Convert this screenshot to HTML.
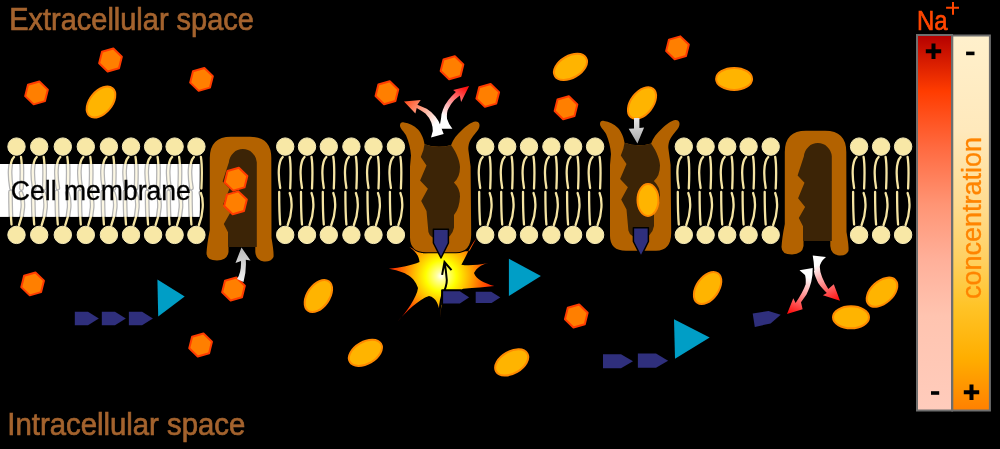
<!DOCTYPE html>
<html><head><meta charset="utf-8"><title>Sodium-potassium pump</title>
<style>html,body{margin:0;padding:0;background:#000;width:1000px;height:449px;overflow:hidden} svg{display:block;will-change:transform} text{font-family:"Liberation Sans",sans-serif}</style>
</head><body>
<svg width="1000" height="449" viewBox="0 0 1000 449"><defs>
<linearGradient id="gRed" x1="0" y1="0" x2="0" y2="1">
 <stop offset="0" stop-color="#b40000"/><stop offset="0.15" stop-color="#ff3c00"/><stop offset="0.3" stop-color="#ff6a40"/><stop offset="0.45" stop-color="#ff9474"/><stop offset="0.6" stop-color="#ffb09a"/><stop offset="0.75" stop-color="#ffc4b0"/><stop offset="1" stop-color="#ffccbc"/>
</linearGradient>
<linearGradient id="gOr" x1="0" y1="0" x2="0" y2="1">
 <stop offset="0" stop-color="#fff0cc"/><stop offset="0.25" stop-color="#ffe9bc"/><stop offset="0.45" stop-color="#ffdc90"/><stop offset="0.6" stop-color="#ffd060"/><stop offset="0.72" stop-color="#ffc428"/><stop offset="0.86" stop-color="#ffae00"/><stop offset="1" stop-color="#ff8000"/>
</linearGradient>
<linearGradient id="gGreyUp" x1="0" y1="0" x2="0" y2="1">
 <stop offset="0" stop-color="#b8b8b8"/><stop offset="1" stop-color="#f4f4f4"/>
</linearGradient>
<linearGradient id="gGreyDn" x1="0" y1="0" x2="0" y2="1">
 <stop offset="0" stop-color="#e8e8e8"/><stop offset="1" stop-color="#a8a8a8"/>
</linearGradient>
<linearGradient id="gArrL" gradientUnits="userSpaceOnUse" x1="440" y1="133" x2="405" y2="102">
 <stop offset="0.2" stop-color="#ffffff"/><stop offset="1" stop-color="#ff5020"/>
</linearGradient>
<linearGradient id="gArrR" gradientUnits="userSpaceOnUse" x1="444" y1="126" x2="466" y2="88">
 <stop offset="0.2" stop-color="#ffffff"/><stop offset="1" stop-color="#ff1010"/>
</linearGradient>
<linearGradient id="gArrDL" gradientUnits="userSpaceOnUse" x1="806" y1="269" x2="788" y2="313">
 <stop offset="0.15" stop-color="#ffffff"/><stop offset="1" stop-color="#ff0a0a"/>
</linearGradient>
<linearGradient id="gArrDR" gradientUnits="userSpaceOnUse" x1="819" y1="256" x2="840" y2="300">
 <stop offset="0.15" stop-color="#ffffff"/><stop offset="1" stop-color="#ff0a0a"/>
</linearGradient>
<radialGradient id="gBoom" gradientUnits="userSpaceOnUse" cx="441" cy="276" r="55">
 <stop offset="0" stop-color="#ffffff"/><stop offset="0.08" stop-color="#ffffa0"/><stop offset="0.28" stop-color="#ffff00"/><stop offset="0.52" stop-color="#ffb000"/><stop offset="0.76" stop-color="#ff5a00"/><stop offset="1" stop-color="#ff1400"/>
</radialGradient>
</defs><rect width="1000" height="449" fill="#000"/><rect x="0" y="164" width="199.8" height="52.8" fill="#fff"/><path d="M14.0,157 C9.0,162 9.5,177 11.5,188 M21.0,157 C22.5,166 22.0,178 21.5,188.5 M10.5,192 C10.5,204 10.5,214 11.5,224.5 M21.0,193 C24.0,200 23.5,214 19.0,225 M36.7,157 C31.7,162 32.2,177 34.2,188 M43.7,157 C45.2,166 44.7,178 44.2,188.5 M33.2,192 C33.2,204 33.2,214 34.2,224.5 M43.7,193 C46.7,200 46.2,214 41.7,225 M60.3,157 C55.3,162 55.8,177 57.8,188 M67.3,157 C68.8,166 68.3,178 67.8,188.5 M56.8,192 C56.8,204 56.8,214 57.8,224.5 M67.3,193 C70.3,200 69.8,214 65.3,225 M83.3,157 C78.3,162 78.8,177 80.8,188 M90.3,157 C91.8,166 91.3,178 90.8,188.5 M79.8,192 C79.8,204 79.8,214 80.8,224.5 M90.3,193 C93.3,200 92.8,214 88.3,225 M106.4,157 C101.4,162 101.9,177 103.9,188 M113.4,157 C114.9,166 114.4,178 113.9,188.5 M102.9,192 C102.9,204 102.9,214 103.9,224.5 M113.4,193 C116.4,200 115.9,214 111.4,225 M128.5,157 C123.5,162 124.0,177 126.0,188 M135.5,157 C137.0,166 136.5,178 136.0,188.5 M125.0,192 C125.0,204 125.0,214 126.0,224.5 M135.5,193 C138.5,200 138.0,214 133.5,225 M150.6,157 C145.6,162 146.1,177 148.1,188 M157.6,157 C159.1,166 158.6,178 158.1,188.5 M147.1,192 C147.1,204 147.1,214 148.1,224.5 M157.6,193 C160.6,200 160.1,214 155.6,225 M172.1,157 C167.1,162 167.6,177 169.6,188 M179.1,157 C180.6,166 180.1,178 179.6,188.5 M168.6,192 C168.6,204 168.6,214 169.6,224.5 M179.1,193 C182.1,200 181.6,214 177.1,225 M193.9,157 C188.9,162 189.4,177 191.4,188 M200.9,157 C202.4,166 201.9,178 201.4,188.5 M190.4,192 C190.4,204 190.4,214 191.4,224.5 M200.9,193 C203.9,200 203.4,214 198.9,225 M282.7,157 C277.7,162 278.2,177 280.2,188 M289.7,157 C291.2,166 290.7,178 290.2,188.5 M279.2,192 C279.2,204 279.2,214 280.2,224.5 M289.7,193 C292.7,200 292.2,214 287.7,225 M304.5,157 C299.5,162 300.0,177 302.0,188 M311.5,157 C313.0,166 312.5,178 312.0,188.5 M301.0,192 C301.0,204 301.0,214 302.0,224.5 M311.5,193 C314.5,200 314.0,214 309.5,225 M326.3,157 C321.3,162 321.8,177 323.8,188 M333.3,157 C334.8,166 334.3,178 333.8,188.5 M322.8,192 C322.8,204 322.8,214 323.8,224.5 M333.3,193 C336.3,200 335.8,214 331.3,225 M348.9,157 C343.9,162 344.4,177 346.4,188 M355.9,157 C357.4,166 356.9,178 356.4,188.5 M345.4,192 C345.4,204 345.4,214 346.4,224.5 M355.9,193 C358.9,200 358.4,214 353.9,225 M371.0,157 C366.0,162 366.5,177 368.5,188 M378.0,157 C379.5,166 379.0,178 378.5,188.5 M367.5,192 C367.5,204 367.5,214 368.5,224.5 M378.0,193 C381.0,200 380.5,214 376.0,225 M393.4,157 C388.4,162 388.9,177 390.9,188 M400.4,157 C401.9,166 401.4,178 400.9,188.5 M389.9,192 C389.9,204 389.9,214 390.9,224.5 M400.4,193 C403.4,200 402.9,214 398.4,225 M482.7,157 C477.7,162 478.2,177 480.2,188 M489.7,157 C491.2,166 490.7,178 490.2,188.5 M479.2,192 C479.2,204 479.2,214 480.2,224.5 M489.7,193 C492.7,200 492.2,214 487.7,225 M504.7,157 C499.7,162 500.2,177 502.2,188 M511.7,157 C513.2,166 512.7,178 512.2,188.5 M501.2,192 C501.2,204 501.2,214 502.2,224.5 M511.7,193 C514.7,200 514.2,214 509.7,225 M526.5,157 C521.5,162 522.0,177 524.0,188 M533.5,157 C535.0,166 534.5,178 534.0,188.5 M523.0,192 C523.0,204 523.0,214 524.0,224.5 M533.5,193 C536.5,200 536.0,214 531.5,225 M548.9,157 C543.9,162 544.4,177 546.4,188 M555.9,157 C557.4,166 556.9,178 556.4,188.5 M545.4,192 C545.4,204 545.4,214 546.4,224.5 M555.9,193 C558.9,200 558.4,214 553.9,225 M570.6,157 C565.6,162 566.1,177 568.1,188 M577.6,157 C579.1,166 578.6,178 578.1,188.5 M567.1,192 C567.1,204 567.1,214 568.1,224.5 M577.6,193 C580.6,200 580.1,214 575.6,225 M592.6,157 C587.6,162 588.1,177 590.1,188 M599.6,157 C601.1,166 600.6,178 600.1,188.5 M589.1,192 C589.1,204 589.1,214 590.1,224.5 M599.6,193 C602.6,200 602.1,214 597.6,225 M681.3,157 C676.3,162 676.8,177 678.8,188 M688.3,157 C689.8,166 689.3,178 688.8,188.5 M677.8,192 C677.8,204 677.8,214 678.8,224.5 M688.3,193 C691.3,200 690.8,214 686.3,225 M703.1,157 C698.1,162 698.6,177 700.6,188 M710.1,157 C711.6,166 711.1,178 710.6,188.5 M699.6,192 C699.6,204 699.6,214 700.6,224.5 M710.1,193 C713.1,200 712.6,214 708.1,225 M724.7,157 C719.7,162 720.2,177 722.2,188 M731.7,157 C733.2,166 732.7,178 732.2,188.5 M721.2,192 C721.2,204 721.2,214 722.2,224.5 M731.7,193 C734.7,200 734.2,214 729.7,225 M746.1,157 C741.1,162 741.6,177 743.6,188 M753.1,157 C754.6,166 754.1,178 753.6,188.5 M742.6,192 C742.6,204 742.6,214 743.6,224.5 M753.1,193 C756.1,200 755.6,214 751.1,225 M768.2,157 C763.2,162 763.7,177 765.7,188 M775.2,157 C776.7,166 776.2,178 775.7,188.5 M764.7,192 C764.7,204 764.7,214 765.7,224.5 M775.2,193 C778.2,200 777.7,214 773.2,225 M856.6,157 C851.6,162 852.1,177 854.1,188 M863.6,157 C865.1,166 864.6,178 864.1,188.5 M853.1,192 C853.1,204 853.1,214 854.1,224.5 M863.6,193 C866.6,200 866.1,214 861.6,225 M878.6,157 C873.6,162 874.1,177 876.1,188 M885.6,157 C887.1,166 886.6,178 886.1,188.5 M875.1,192 C875.1,204 875.1,214 876.1,224.5 M885.6,193 C888.6,200 888.1,214 883.6,225 M900.6,157 C895.6,162 896.1,177 898.1,188 M907.6,157 C909.1,166 908.6,178 908.1,188.5 M897.1,192 C897.1,204 897.1,214 898.1,224.5 M907.6,193 C910.6,200 910.1,214 905.6,225" fill="none" stroke="#000" stroke-width="4.8" stroke-linecap="round"/><path d="M14.0,157 C9.0,162 9.5,177 11.5,188 M21.0,157 C22.5,166 22.0,178 21.5,188.5 M10.5,192 C10.5,204 10.5,214 11.5,224.5 M21.0,193 C24.0,200 23.5,214 19.0,225 M36.7,157 C31.7,162 32.2,177 34.2,188 M43.7,157 C45.2,166 44.7,178 44.2,188.5 M33.2,192 C33.2,204 33.2,214 34.2,224.5 M43.7,193 C46.7,200 46.2,214 41.7,225 M60.3,157 C55.3,162 55.8,177 57.8,188 M67.3,157 C68.8,166 68.3,178 67.8,188.5 M56.8,192 C56.8,204 56.8,214 57.8,224.5 M67.3,193 C70.3,200 69.8,214 65.3,225 M83.3,157 C78.3,162 78.8,177 80.8,188 M90.3,157 C91.8,166 91.3,178 90.8,188.5 M79.8,192 C79.8,204 79.8,214 80.8,224.5 M90.3,193 C93.3,200 92.8,214 88.3,225 M106.4,157 C101.4,162 101.9,177 103.9,188 M113.4,157 C114.9,166 114.4,178 113.9,188.5 M102.9,192 C102.9,204 102.9,214 103.9,224.5 M113.4,193 C116.4,200 115.9,214 111.4,225 M128.5,157 C123.5,162 124.0,177 126.0,188 M135.5,157 C137.0,166 136.5,178 136.0,188.5 M125.0,192 C125.0,204 125.0,214 126.0,224.5 M135.5,193 C138.5,200 138.0,214 133.5,225 M150.6,157 C145.6,162 146.1,177 148.1,188 M157.6,157 C159.1,166 158.6,178 158.1,188.5 M147.1,192 C147.1,204 147.1,214 148.1,224.5 M157.6,193 C160.6,200 160.1,214 155.6,225 M172.1,157 C167.1,162 167.6,177 169.6,188 M179.1,157 C180.6,166 180.1,178 179.6,188.5 M168.6,192 C168.6,204 168.6,214 169.6,224.5 M179.1,193 C182.1,200 181.6,214 177.1,225 M193.9,157 C188.9,162 189.4,177 191.4,188 M200.9,157 C202.4,166 201.9,178 201.4,188.5 M190.4,192 C190.4,204 190.4,214 191.4,224.5 M200.9,193 C203.9,200 203.4,214 198.9,225 M282.7,157 C277.7,162 278.2,177 280.2,188 M289.7,157 C291.2,166 290.7,178 290.2,188.5 M279.2,192 C279.2,204 279.2,214 280.2,224.5 M289.7,193 C292.7,200 292.2,214 287.7,225 M304.5,157 C299.5,162 300.0,177 302.0,188 M311.5,157 C313.0,166 312.5,178 312.0,188.5 M301.0,192 C301.0,204 301.0,214 302.0,224.5 M311.5,193 C314.5,200 314.0,214 309.5,225 M326.3,157 C321.3,162 321.8,177 323.8,188 M333.3,157 C334.8,166 334.3,178 333.8,188.5 M322.8,192 C322.8,204 322.8,214 323.8,224.5 M333.3,193 C336.3,200 335.8,214 331.3,225 M348.9,157 C343.9,162 344.4,177 346.4,188 M355.9,157 C357.4,166 356.9,178 356.4,188.5 M345.4,192 C345.4,204 345.4,214 346.4,224.5 M355.9,193 C358.9,200 358.4,214 353.9,225 M371.0,157 C366.0,162 366.5,177 368.5,188 M378.0,157 C379.5,166 379.0,178 378.5,188.5 M367.5,192 C367.5,204 367.5,214 368.5,224.5 M378.0,193 C381.0,200 380.5,214 376.0,225 M393.4,157 C388.4,162 388.9,177 390.9,188 M400.4,157 C401.9,166 401.4,178 400.9,188.5 M389.9,192 C389.9,204 389.9,214 390.9,224.5 M400.4,193 C403.4,200 402.9,214 398.4,225 M482.7,157 C477.7,162 478.2,177 480.2,188 M489.7,157 C491.2,166 490.7,178 490.2,188.5 M479.2,192 C479.2,204 479.2,214 480.2,224.5 M489.7,193 C492.7,200 492.2,214 487.7,225 M504.7,157 C499.7,162 500.2,177 502.2,188 M511.7,157 C513.2,166 512.7,178 512.2,188.5 M501.2,192 C501.2,204 501.2,214 502.2,224.5 M511.7,193 C514.7,200 514.2,214 509.7,225 M526.5,157 C521.5,162 522.0,177 524.0,188 M533.5,157 C535.0,166 534.5,178 534.0,188.5 M523.0,192 C523.0,204 523.0,214 524.0,224.5 M533.5,193 C536.5,200 536.0,214 531.5,225 M548.9,157 C543.9,162 544.4,177 546.4,188 M555.9,157 C557.4,166 556.9,178 556.4,188.5 M545.4,192 C545.4,204 545.4,214 546.4,224.5 M555.9,193 C558.9,200 558.4,214 553.9,225 M570.6,157 C565.6,162 566.1,177 568.1,188 M577.6,157 C579.1,166 578.6,178 578.1,188.5 M567.1,192 C567.1,204 567.1,214 568.1,224.5 M577.6,193 C580.6,200 580.1,214 575.6,225 M592.6,157 C587.6,162 588.1,177 590.1,188 M599.6,157 C601.1,166 600.6,178 600.1,188.5 M589.1,192 C589.1,204 589.1,214 590.1,224.5 M599.6,193 C602.6,200 602.1,214 597.6,225 M681.3,157 C676.3,162 676.8,177 678.8,188 M688.3,157 C689.8,166 689.3,178 688.8,188.5 M677.8,192 C677.8,204 677.8,214 678.8,224.5 M688.3,193 C691.3,200 690.8,214 686.3,225 M703.1,157 C698.1,162 698.6,177 700.6,188 M710.1,157 C711.6,166 711.1,178 710.6,188.5 M699.6,192 C699.6,204 699.6,214 700.6,224.5 M710.1,193 C713.1,200 712.6,214 708.1,225 M724.7,157 C719.7,162 720.2,177 722.2,188 M731.7,157 C733.2,166 732.7,178 732.2,188.5 M721.2,192 C721.2,204 721.2,214 722.2,224.5 M731.7,193 C734.7,200 734.2,214 729.7,225 M746.1,157 C741.1,162 741.6,177 743.6,188 M753.1,157 C754.6,166 754.1,178 753.6,188.5 M742.6,192 C742.6,204 742.6,214 743.6,224.5 M753.1,193 C756.1,200 755.6,214 751.1,225 M768.2,157 C763.2,162 763.7,177 765.7,188 M775.2,157 C776.7,166 776.2,178 775.7,188.5 M764.7,192 C764.7,204 764.7,214 765.7,224.5 M775.2,193 C778.2,200 777.7,214 773.2,225 M856.6,157 C851.6,162 852.1,177 854.1,188 M863.6,157 C865.1,166 864.6,178 864.1,188.5 M853.1,192 C853.1,204 853.1,214 854.1,224.5 M863.6,193 C866.6,200 866.1,214 861.6,225 M878.6,157 C873.6,162 874.1,177 876.1,188 M885.6,157 C887.1,166 886.6,178 886.1,188.5 M875.1,192 C875.1,204 875.1,214 876.1,224.5 M885.6,193 C888.6,200 888.1,214 883.6,225 M900.6,157 C895.6,162 896.1,177 898.1,188 M907.6,157 C909.1,166 908.6,178 908.1,188.5 M897.1,192 C897.1,204 897.1,214 898.1,224.5 M907.6,193 C910.6,200 910.1,214 905.6,225" fill="none" stroke="#f5e4a2" stroke-width="2.3" stroke-linecap="round"/><g fill="#f8e8a6" stroke="#f6ebb8" stroke-width="1"><circle cx="16.5" cy="146.6" r="8.7"/><circle cx="16.5" cy="234.9" r="8.7"/><circle cx="39.2" cy="146.6" r="8.7"/><circle cx="39.2" cy="234.9" r="8.7"/><circle cx="62.8" cy="146.6" r="8.7"/><circle cx="62.8" cy="234.9" r="8.7"/><circle cx="85.8" cy="146.6" r="8.7"/><circle cx="85.8" cy="234.9" r="8.7"/><circle cx="108.9" cy="146.6" r="8.7"/><circle cx="108.9" cy="234.9" r="8.7"/><circle cx="131.0" cy="146.6" r="8.7"/><circle cx="131.0" cy="234.9" r="8.7"/><circle cx="153.1" cy="146.6" r="8.7"/><circle cx="153.1" cy="234.9" r="8.7"/><circle cx="174.6" cy="146.6" r="8.7"/><circle cx="174.6" cy="234.9" r="8.7"/><circle cx="196.4" cy="146.6" r="8.7"/><circle cx="196.4" cy="234.9" r="8.7"/><circle cx="285.2" cy="146.6" r="8.7"/><circle cx="285.2" cy="234.9" r="8.7"/><circle cx="307.0" cy="146.6" r="8.7"/><circle cx="307.0" cy="234.9" r="8.7"/><circle cx="328.8" cy="146.6" r="8.7"/><circle cx="328.8" cy="234.9" r="8.7"/><circle cx="351.4" cy="146.6" r="8.7"/><circle cx="351.4" cy="234.9" r="8.7"/><circle cx="373.5" cy="146.6" r="8.7"/><circle cx="373.5" cy="234.9" r="8.7"/><circle cx="395.9" cy="146.6" r="8.7"/><circle cx="395.9" cy="234.9" r="8.7"/><circle cx="485.2" cy="146.6" r="8.7"/><circle cx="485.2" cy="234.9" r="8.7"/><circle cx="507.2" cy="146.6" r="8.7"/><circle cx="507.2" cy="234.9" r="8.7"/><circle cx="529.0" cy="146.6" r="8.7"/><circle cx="529.0" cy="234.9" r="8.7"/><circle cx="551.4" cy="146.6" r="8.7"/><circle cx="551.4" cy="234.9" r="8.7"/><circle cx="573.1" cy="146.6" r="8.7"/><circle cx="573.1" cy="234.9" r="8.7"/><circle cx="595.1" cy="146.6" r="8.7"/><circle cx="595.1" cy="234.9" r="8.7"/><circle cx="683.8" cy="146.6" r="8.7"/><circle cx="683.8" cy="234.9" r="8.7"/><circle cx="705.6" cy="146.6" r="8.7"/><circle cx="705.6" cy="234.9" r="8.7"/><circle cx="727.2" cy="146.6" r="8.7"/><circle cx="727.2" cy="234.9" r="8.7"/><circle cx="748.6" cy="146.6" r="8.7"/><circle cx="748.6" cy="234.9" r="8.7"/><circle cx="770.7" cy="146.6" r="8.7"/><circle cx="770.7" cy="234.9" r="8.7"/><circle cx="859.1" cy="146.6" r="8.7"/><circle cx="859.1" cy="234.9" r="8.7"/><circle cx="881.1" cy="146.6" r="8.7"/><circle cx="881.1" cy="234.9" r="8.7"/><circle cx="903.1" cy="146.6" r="8.7"/><circle cx="903.1" cy="234.9" r="8.7"/></g><rect x="0" y="164" width="199.8" height="52.8" fill="#fff" opacity="0.7"/><text x="10.8" y="199.5" font-family="Liberation Sans" font-size="27" fill="#000" stroke="#000" stroke-width="0.3" textLength="180" lengthAdjust="spacingAndGlyphs">Cell membrane</text><path d="M469,251 L423.3,253.3 L409.5,247 C416,252 419,256 419.5,262 C412,265.5 400,267.5 388.9,268.7 C402,271 414,275 418,288 C417,297 406,313 397.5,321.5 C406,312 419,299 429,296 C436,297.5 439.5,305 440.3,316.7 C441,306 442.5,300 444,296 L463.2,288.8 C475,288 485,287 494.3,286.1 C484,283 476,279 474,273 C477,268 480,265 488.1,263 C478,265 468,266 461.4,264.7 C466,257 470,246 476.5,238 L470,250 Z" fill="url(#gBoom)"/><g transform="translate(-575 6)"><path d="M784.8,152 Q784.8,130.7 806,130.7 L825,130.7 Q846.3,130.7 846.3,152 L846.5,232 Q849,246 848.5,251 Q846,256 839,255.5 Q831,254.5 830.3,246 L830.3,241 L803.5,241 L803.5,246 Q802.5,254 792,254.5 Q781.5,254.5 781.5,247 Q782,238 784.8,224 Z" fill="#b36200" stroke="#000" stroke-width="2" paint-order="stroke"/><path d="M803.9,156.2 A14,14.3 0 0 1 831.8,156.2 L831.8,241 L803,241 L803,226.2 L798.8,218.1 L805.1,207.1 L798.1,198.3 L804.5,182.8 L797.6,175.6 Z" fill="#3c2406"/></g><g transform="translate(0 0)"><path d="M784.8,152 Q784.8,130.7 806,130.7 L825,130.7 Q846.3,130.7 846.3,152 L846.5,232 Q849,246 848.5,251 Q846,256 839,255.5 Q831,254.5 830.3,246 L830.3,241 L803.5,241 L803.5,246 Q802.5,254 792,254.5 Q781.5,254.5 781.5,247 Q782,238 784.8,224 Z" fill="#b36200" stroke="#000" stroke-width="2" paint-order="stroke"/><path d="M803.9,156.2 A14,14.3 0 0 1 831.8,156.2 L831.8,241 L803,241 L803,226.2 L798.8,218.1 L805.1,207.1 L798.1,198.3 L804.5,182.8 L797.6,175.6 Z" fill="#3c2406"/></g><g transform="translate(-200 1.5)"><path d="M624.5,142.8 Q638,147.5 651.1,143.4 C653,138 657,133 662,128.5 C667,124 671,120.5 675.6,120 C679,119.8 680.5,123 679,126.5 C677.5,130 672,135 669.5,140.6 C668.3,144 668.2,147 668.4,148.4 L670.6,165 L671.2,233 Q671,250.7 656,250.7 L626,250.7 Q610,250.7 610,236 L610,165 L611,154 C610.5,147 609,141 606.1,134 C604,130 600,127 600,124 C600,121 602,120.5 604,121 C609,121.5 614,124 618,128 C621,131.5 623.5,136 624.5,142.8 Z" fill="#b36200" stroke="#000" stroke-width="2" paint-order="stroke"/><path d="M624.5,142.8 Q638,147.5 651,143.4 C654,147 660,158 660,165.6 Q660,176 653.9,181 Q660,187 660,195 Q659.5,207 654,213.5 L654,226 Q652,237 641,238.5 Q630,237.5 628.4,230.6 L626.5,209.5 L621.2,199.5 L627.9,187.3 L620.1,178.9 L626.5,164 L620.8,155.6 L623.4,148.4 Z" fill="#3c2406"/><path d="M633.4,227.8 L648.4,227.8 L648.4,241.5 L641,256.5 L633.4,241.5 Z" fill="#2f2f7c" stroke="#000" stroke-width="1.5" stroke-linejoin="round"/></g><g transform="translate(0 0)"><path d="M624.5,142.8 Q638,147.5 651.1,143.4 C653,138 657,133 662,128.5 C667,124 671,120.5 675.6,120 C679,119.8 680.5,123 679,126.5 C677.5,130 672,135 669.5,140.6 C668.3,144 668.2,147 668.4,148.4 L670.6,165 L671.2,233 Q671,250.7 656,250.7 L626,250.7 Q610,250.7 610,236 L610,165 L611,154 C610.5,147 609,141 606.1,134 C604,130 600,127 600,124 C600,121 602,120.5 604,121 C609,121.5 614,124 618,128 C621,131.5 623.5,136 624.5,142.8 Z" fill="#b36200" stroke="#000" stroke-width="2" paint-order="stroke"/><path d="M624.5,142.8 Q638,147.5 651,143.4 C654,147 660,158 660,165.6 Q660,176 653.9,181 Q660,187 660,195 Q659.5,207 654,213.5 L654,226 Q652,237 641,238.5 Q630,237.5 628.4,230.6 L626.5,209.5 L621.2,199.5 L627.9,187.3 L620.1,178.9 L626.5,164 L620.8,155.6 L623.4,148.4 Z" fill="#3c2406"/><path d="M633.4,227.8 L648.4,227.8 L648.4,241.5 L641,256.5 L633.4,241.5 Z" fill="#2f2f7c" stroke="#000" stroke-width="1.5" stroke-linejoin="round"/></g><polygon points="39.35,81.45 28.01,84.70 25.16,96.15 33.65,104.35 44.99,101.10 47.84,89.65" fill="#ff7f00" stroke="#ff3c00" stroke-width="2" stroke-linejoin="round"/><polygon points="113.35,48.55 102.01,51.80 99.16,63.25 107.65,71.45 118.99,68.20 121.84,56.75" fill="#ff7f00" stroke="#ff3c00" stroke-width="2" stroke-linejoin="round"/><polygon points="204.35,67.95 193.01,71.20 190.16,82.65 198.65,90.85 209.99,87.60 212.84,76.15" fill="#ff7f00" stroke="#ff3c00" stroke-width="2" stroke-linejoin="round"/><polygon points="389.75,81.30 378.41,84.55 375.56,96.00 384.05,104.20 395.39,100.95 398.24,89.50" fill="#ff7f00" stroke="#ff3c00" stroke-width="2" stroke-linejoin="round"/><polygon points="454.85,56.30 443.51,59.55 440.66,71.00 449.15,79.20 460.49,75.95 463.34,64.50" fill="#ff7f00" stroke="#ff3c00" stroke-width="2" stroke-linejoin="round"/><polygon points="490.60,83.95 479.26,87.20 476.41,98.65 484.90,106.85 496.24,103.60 499.09,92.15" fill="#ff7f00" stroke="#ff3c00" stroke-width="2" stroke-linejoin="round"/><polygon points="568.85,96.30 557.51,99.55 554.66,111.00 563.15,119.20 574.49,115.95 577.34,104.50" fill="#ff7f00" stroke="#ff3c00" stroke-width="2" stroke-linejoin="round"/><polygon points="680.35,36.35 669.01,39.60 666.16,51.05 674.65,59.25 685.99,56.00 688.84,44.55" fill="#ff7f00" stroke="#ff3c00" stroke-width="2" stroke-linejoin="round"/><polygon points="35.45,272.45 24.11,275.70 21.26,287.15 29.75,295.35 41.09,292.10 43.94,280.65" fill="#ff7f00" stroke="#ff3c00" stroke-width="2" stroke-linejoin="round"/><polygon points="203.45,333.55 192.11,336.80 189.26,348.25 197.75,356.45 209.09,353.20 211.94,341.75" fill="#ff7f00" stroke="#ff3c00" stroke-width="2" stroke-linejoin="round"/><polygon points="236.35,277.55 225.01,280.80 222.16,292.25 230.65,300.45 241.99,297.20 244.84,285.75" fill="#ff7f00" stroke="#ff3c00" stroke-width="2" stroke-linejoin="round"/><polygon points="579.15,304.55 567.81,307.80 564.96,319.25 573.45,327.45 584.79,324.20 587.64,312.75" fill="#ff7f00" stroke="#ff3c00" stroke-width="2" stroke-linejoin="round"/><polygon points="238.85,167.75 227.51,171.00 224.66,182.45 233.15,190.65 244.49,187.40 247.34,175.95" fill="#ff7f00" stroke="#ff3c00" stroke-width="2" stroke-linejoin="round"/><polygon points="238.35,191.35 227.01,194.60 224.16,206.05 232.65,214.25 243.99,211.00 246.84,199.55" fill="#ff7f00" stroke="#ff3c00" stroke-width="2" stroke-linejoin="round"/><ellipse cx="101" cy="102" rx="18" ry="11" transform="rotate(-50 101 102)" fill="#ffb400" stroke="#ff8a00" stroke-width="2"/><ellipse cx="570.5" cy="66.9" rx="18" ry="11" transform="rotate(-30 570.5 66.9)" fill="#ffb400" stroke="#ff8a00" stroke-width="2"/><ellipse cx="734.1" cy="78.9" rx="18" ry="11" transform="rotate(0 734.1 78.9)" fill="#ffb400" stroke="#ff8a00" stroke-width="2"/><ellipse cx="642" cy="103" rx="18" ry="11" transform="rotate(-52 642 103)" fill="#ffb400" stroke="#ff8a00" stroke-width="2"/><ellipse cx="318.4" cy="296" rx="18" ry="11" transform="rotate(-55 318.4 296)" fill="#ffb400" stroke="#ff8a00" stroke-width="2"/><ellipse cx="365.4" cy="352.8" rx="18" ry="11" transform="rotate(-30 365.4 352.8)" fill="#ffb400" stroke="#ff8a00" stroke-width="2"/><ellipse cx="511.7" cy="362.4" rx="18" ry="11" transform="rotate(-30 511.7 362.4)" fill="#ffb400" stroke="#ff8a00" stroke-width="2"/><ellipse cx="707.6" cy="288" rx="18" ry="11" transform="rotate(-55 707.6 288)" fill="#ffb400" stroke="#ff8a00" stroke-width="2"/><ellipse cx="882" cy="292.2" rx="18" ry="11" transform="rotate(-42 882 292.2)" fill="#ffb400" stroke="#ff8a00" stroke-width="2"/><ellipse cx="851" cy="317.3" rx="18" ry="11" transform="rotate(0 851 317.3)" fill="#ffb400" stroke="#ff8a00" stroke-width="2"/><ellipse cx="648" cy="200" rx="10.5" ry="16" fill="#ffb400" stroke="#ff8a00" stroke-width="2"/><path d="M241.5,247.5 L250.5,260.5 L245.8,259.8 Q246.5,272 243.5,282 L237,279 Q241.5,272 241,261 L235.5,263 Z" fill="url(#gGreyUp)"/><path d="M634,118 L639.4,118 L639.4,128 L644.1,127.4 L637.4,143.4 L628.7,128.7 L634,128.5 Z" fill="url(#gGreyDn)"/><path d="M431,137.5 L443.7,134.1 Q442,130 441,126.8 Q438.5,120 435.4,116.5 Q431.5,111.5 426.7,108.7 L417.4,104.7 L420.7,100 L404,101.4 L415.4,113.4 L416.7,108 Q421,110.5 425.4,113.4 Q430,118 431.4,122.8 Q433,127.5 432.8,131 Z" fill="url(#gArrL)"/><path d="M439.7,128.8 L452.4,128.8 Q448.5,124 447,118.8 Q446.5,112 448.4,108.7 Q451,103.5 454.4,100 L459.8,95.4 L461.1,102 L469.1,86 L453.1,90 L455.9,92 Q451,96.5 448.4,100 Q444.5,105 443,109.4 Q441,114 441,118.8 Q440.3,123 439.7,125.5 Z" fill="url(#gArrR)"/><path d="M799.5,270.3 L812.7,267.9 Q813,282 806.5,294.4 L801,302.2 L802.6,309.2 L787,313.9 L793.3,298.3 L795.6,303 Q803,292 805.7,284.3 Q806,278 805,275 Z" fill="url(#gArrDL)"/><path d="M812.7,255.5 L826,257 Q820,262 819.8,267.1 Q820,276 828.3,289 L833.8,284.3 L840,300.7 L822.9,295.2 L826.8,292.9 Q818,284 817.4,281.2 Q813,272 814.3,270.3 Q814,262 812.7,255.5 Z" fill="url(#gArrDR)"/><path d="M439.8,316 Q439.5,304 442,296 Q447,286 446.8,280 Q446,270 444.5,262 M442.1,274.9 L444.5,262 L451.5,270.2" fill="none" stroke="#000" stroke-width="2" stroke-linejoin="miter"/><polygon points="74.8,311.8 88.0,311.8 98.8,318.55 88.0,325.3 74.8,325.3" fill="#2f2f7c"/><polygon points="101.8,311.8 115.0,311.8 125.8,318.55 115.0,325.3 101.8,325.3" fill="#2f2f7c"/><polygon points="128.9,311.8 142.1,311.8 152.9,318.55 142.1,325.3 128.9,325.3" fill="#2f2f7c"/><polygon points="157.4,279.4 158.2,316.5 184.7,296.5" fill="#009ec6"/><polygon points="442.1,290.2 460.01800000000003,290.2 471.0,297.34999999999997 460.01800000000003,304.5 442.1,304.5" fill="#2f2f7c" stroke="#000" stroke-width="2" stroke-linejoin="round"/><polygon points="474.7,290.8 491.75,290.8 502.2,297.45 491.75,304.1 474.7,304.1" fill="#2f2f7c" stroke="#000" stroke-width="2" stroke-linejoin="round"/><polygon points="508.9,258.7 508.9,296.1 540.9,276" fill="#009ec6"/><polygon points="603,354.2 621.0,354.2 633,361.2 621.0,368.2 603,368.2" fill="#2f2f7c"/><polygon points="637.9,353.5 656.02,353.5 668.1,360.65 656.02,367.8 637.9,367.8" fill="#2f2f7c"/><polygon points="674,319.3 675,358.8 709.7,337.4" fill="#009ec6"/><polygon points="752.7,313.6 768.5,310.9 780.7,314.7 770.6,323.5 754.8,326.9" fill="#2f2f7c"/><rect x="917" y="35" width="35" height="375.5" fill="url(#gRed)" stroke="#6e6e6e" stroke-width="2"/><rect x="952.3" y="35.5" width="37.6" height="375" fill="url(#gOr)" stroke="#6e6e6e" stroke-width="2"/><path d="M925.8,49.3 h15.4 v4 h-15.4 z M931.5,43.6 h4 v15.4 h-4 z" fill="#000"/><rect x="966.1" y="51.6" width="8.4" height="3.6" fill="#000"/><rect x="931" y="391.2" width="8.2" height="3.6" fill="#000"/><path d="M963.8,390.2 h15.4 v4 h-15.4 z M969.5,384.5 h4 v15.4 h-4 z" fill="#000"/><text x="917" y="30.3" font-family="Liberation Sans" font-size="27" fill="#ff4600" stroke="#ff4600" stroke-width="0.7" textLength="30.5" lengthAdjust="spacingAndGlyphs">Na</text><path d="M946.1,7.8 h12.9 M953,2 v12.7" stroke="#ff4600" stroke-width="2" fill="none"/><text transform="translate(980.5 299) rotate(-90)" font-family="Liberation Sans" font-size="27" fill="#ff8400" stroke="#ff8400" stroke-width="0.35" textLength="162" lengthAdjust="spacingAndGlyphs">concentration</text><text x="9.3" y="29.8" font-family="Liberation Sans" font-size="31" fill="#a4632e" stroke="#a4632e" stroke-width="0.7" textLength="244.5" lengthAdjust="spacingAndGlyphs">Extracellular space</text><text x="7.3" y="435" font-family="Liberation Sans" font-size="31" fill="#a4632e" stroke="#a4632e" stroke-width="0.7" textLength="238" lengthAdjust="spacingAndGlyphs">Intracellular space</text></svg>
</body></html>
